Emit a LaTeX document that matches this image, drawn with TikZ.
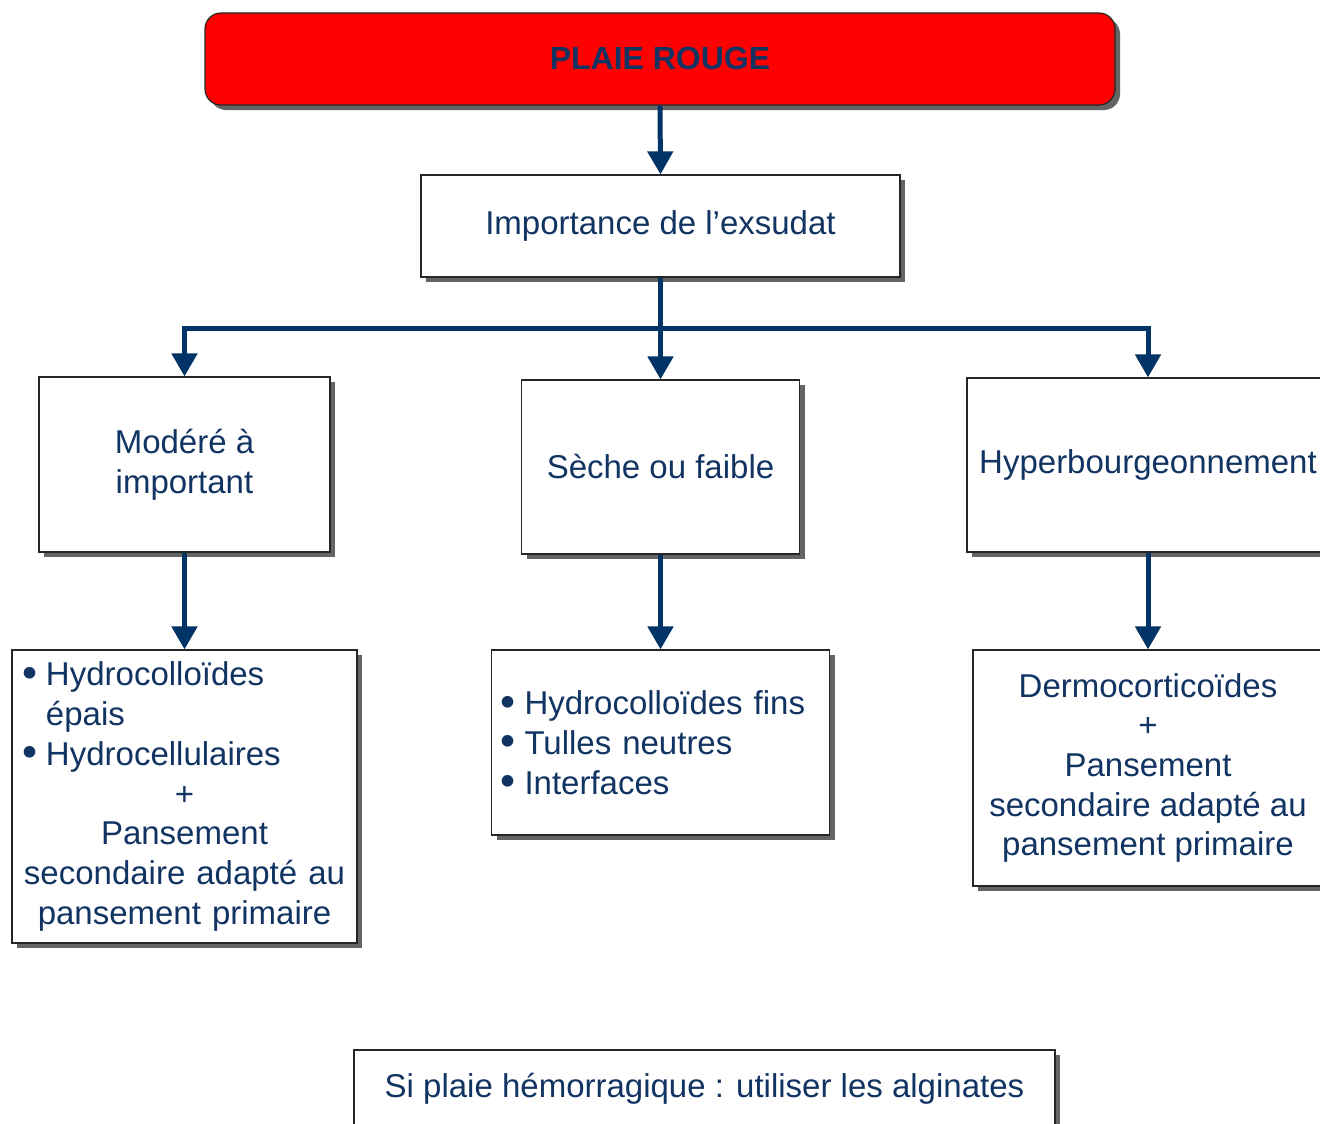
\documentclass[tikz,border=0pt]{standalone}
\usepackage{fontspec}
\setmainfont{Liberation Sans}
\usetikzlibrary{arrows.meta,shadows}
\definecolor{txtblue}{RGB}{18,52,98}
\definecolor{arrblue}{RGB}{0,51,102}
\definecolor{shadowgray}{RGB}{100,100,100}
\newcommand{\bul}{\makebox[24pt][l]{\smash{\raisebox{-1.5pt}{\scalebox{1.3}{•}}}}}
\begin{document}
\begin{tikzpicture}[x=1pt,y=-1pt,
  box/.style={draw=black!85, line width=1.2pt, fill=white, text=txtblue, inner sep=0pt,
    align=center, font=\fontsize{33}{39.7}\selectfont,
    drop shadow={shadow xshift=5pt, shadow yshift=-5pt, fill=shadowgray, opacity=1}},
  arr/.style={draw=arrblue, line width=5pt, -{Triangle[width=25pt,length=23pt]}},
]
\fill[white] (0,0) rectangle (1320,1124);
\clip (0,0) rectangle (1320,1124);

\node[box, rounded corners=16pt, fill=red, minimum width=910pt, minimum height=92pt,
  font=\fontsize{32}{38}\selectfont\bfseries] (red) at (660,59) {\raisebox{2pt}{PLAIE ROUGE}};
\node[box, minimum width=479pt, minimum height=102pt] (imp) at (660.5,226) {Importance de l’exsudat};

\node[box, minimum width=291pt, minimum height=175pt] (mod) at (184.5,464.5) {Modéré à\\important};
\node[box, minimum width=278pt, minimum height=174pt] (sec) at (660.5,467) {Sèche ou faible};
\node[box, minimum width=362pt, minimum height=174pt] (hyp) at (1148,465) {Hyperbourgeonnement};

\node[box, minimum width=345pt, minimum height=293pt, text width=325pt] (t1) at (184.5,796.5)
  {\makebox[325pt][l]{\bul Hydrocolloïdes}\\
   \makebox[325pt][l]{\hspace*{24pt}épais}\\
   \makebox[325pt][l]{\bul Hydrocellulaires}\\
   +\\ Pansement\\ secondaire adapté au\\ pansement primaire};
\node[box, minimum width=338pt, minimum height=185pt, text width=320pt, align=left] (t2) at (660.5,742.5)
  {\bul Hydrocolloïdes fins\\ \bul Tulles neutres\\ \bul Interfaces};
\node[box, minimum width=350pt, minimum height=236pt] (t3) at (1148,768)
  {Dermocorticoïdes\\+\\Pansement\\secondaire adapté au\\pansement primaire};

\node[box, minimum width=701pt, minimum height=78pt] (alg) at (704.5,1089)
  {Si plaie hémorragique : utiliser les alginates};

\coordinate (j) at (660.5,328);
\draw[arr] (red.south) -- (imp.north);
\draw[draw=arrblue, line width=5pt] (mod.north |- j) -- (hyp.north |- j);
\draw[arr] (imp.south) -- (sec.north);
\draw[arr] (j) -| (mod.north);
\draw[arr] (j) -| (hyp.north);
\draw[arr] (mod.south) -- (t1.north);
\draw[arr] (sec.south) -- (t2.north);
\draw[arr] (hyp.south) -- (t3.north);
\end{tikzpicture}
\end{document}
